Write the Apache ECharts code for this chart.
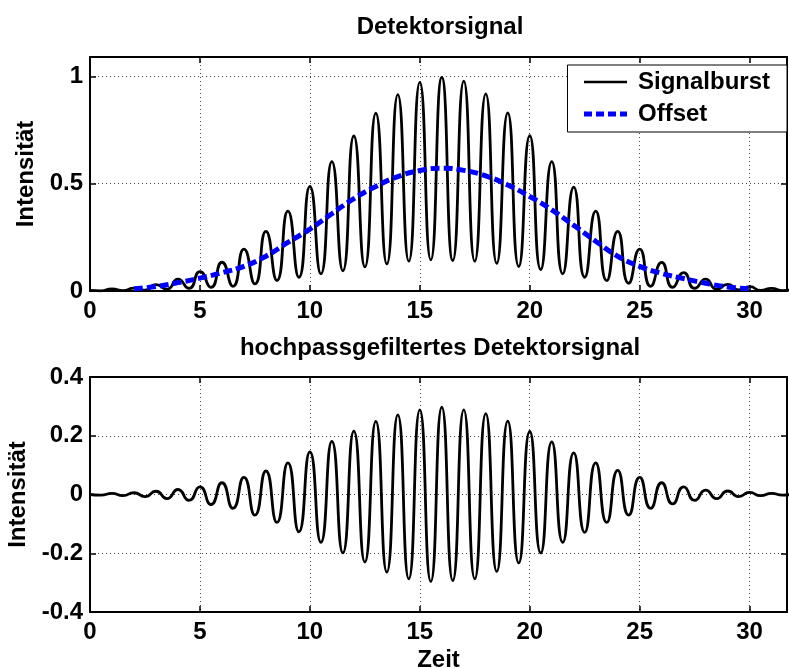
<!DOCTYPE html>
<html>
<head>
    <meta charset="utf-8">
    <title>Detektorsignal</title>
    <script src="https://cdn.jsdelivr.net/npm/echarts@6/dist/echarts.min.js"></script>
</head>
<body style="margin:0">
    <div id="main" style="width: 789px;height: 668px;"></div>
    <script type="text/javascript">
    // Signalburst (oben): Maxima bei ganzen Zeiten, Minima dazwischen
    var burstT = [0, 0.5, 1, 1.5, 2, 2.5, 3, 3.5, 4, 4.5, 5, 5.5, 6, 6.5, 7, 7.5, 8, 8.5, 9, 9.5,
        10, 10.5, 11, 11.5, 12, 12.5, 13, 13.5, 14, 14.5, 15, 15.5, 16, 16.5, 17, 17.5, 18, 18.5, 19, 19.5,
        20, 20.5, 21, 21.5, 22, 22.5, 23, 23.5, 24, 24.5, 25, 25.5, 26, 26.5, 27, 27.5, 28, 28.5, 29, 29.5,
        30, 30.5, 31, 31.5, 32];
    var burstY = [0.003, 0.001, 0.01, 0.002, 0.013, 0.004, 0.03, 0.008, 0.055, 0.012,
        0.09, 0.017, 0.134, 0.022, 0.195, 0.033, 0.278, 0.049, 0.372, 0.064,
        0.487, 0.08, 0.603, 0.094, 0.722, 0.112, 0.828, 0.126, 0.915, 0.139,
        0.972, 0.145, 0.995, 0.142, 0.978, 0.139, 0.918, 0.129, 0.83, 0.114,
        0.724, 0.1, 0.603, 0.08, 0.484, 0.064, 0.372, 0.048, 0.278, 0.036,
        0.195, 0.022, 0.133, 0.017, 0.086, 0.012, 0.055, 0.008, 0.031, 0.005,
        0.02, 0.003, 0.012, 0.002, 0.008];

    // Offset (gestrichelt)
    var offsetT = [2, 3, 4, 5, 6, 7, 8, 9, 10, 11, 12, 13, 14, 15, 16, 17, 18, 19, 20, 21, 22, 23, 24, 25, 26, 27, 28, 29, 30];
    var offsetY = [0.01, 0.021, 0.039, 0.06, 0.085, 0.115, 0.162, 0.226, 0.288, 0.36, 0.43, 0.487, 0.533, 0.561, 0.572,
        0.562, 0.536, 0.494, 0.44, 0.378, 0.306, 0.232, 0.162, 0.115, 0.082, 0.058, 0.036, 0.019, 0.01];

    // hochpassgefiltertes Signal (unten)
    var hpT = burstT;
    var hpY = [0, -0.002, 0.004, -0.004, 0.006, -0.007, 0.011, -0.014, 0.017, -0.02,
        0.026, -0.034, 0.04, -0.047, 0.058, -0.07, 0.08, -0.095, 0.108, -0.127,
        0.145, -0.163, 0.181, -0.199, 0.216, -0.23, 0.249, -0.264, 0.271, -0.287,
        0.288, -0.296, 0.297, -0.293, 0.288, -0.287, 0.275, -0.262, 0.25, -0.233,
        0.215, -0.199, 0.179, -0.163, 0.142, -0.129, 0.108, -0.095, 0.082, -0.07,
        0.058, -0.047, 0.04, -0.032, 0.026, -0.02, 0.015, -0.014, 0.012, -0.007,
        0.007, -0.004, 0.004, -0.002, 0.002];

    var font = 'Liberation Sans';
    var fs = 24;

    function pairs(xs, ys) {
        return xs.map((x, i) => [x, ys[i]]);
    }

    function xAx(grid, pos, labels, name) {
        return {
            type: 'value', gridIndex: grid, position: pos,
            min: 0, max: 31.7, interval: 5,
            name: name || '', nameLocation: 'middle', nameGap: 36,
            nameTextStyle: {fontFamily: font, fontSize: fs, fontWeight: 'bold', color: '#000'},
            axisLine: {show: true, onZero: false, lineStyle: {color: '#000', width: 2}},
            axisTick: {show: true, inside: true, length: 6, lineStyle: {color: '#000', width: 1.5}},
            axisLabel: {show: labels, showMaxLabel: false, margin: 8, fontFamily: font, fontSize: fs, fontWeight: 'bold', color: '#000'},
            splitLine: {show: labels, lineStyle: {color: '#444', width: 1, type: [1, 3]}}
        };
    }

    function yAx(grid, pos, labels, min, max, interval) {
        return {
            type: 'value', gridIndex: grid, position: pos,
            min: min, max: max, interval: interval,
            name: labels ? 'Intensität' : '', nameLocation: 'middle', nameGap: 44, nameRotate: 90,
            nameTextStyle: {fontFamily: font, fontSize: fs, fontWeight: 'bold', color: '#000'},
            axisLine: {show: true, onZero: false, lineStyle: {color: '#000', width: 2}},
            axisTick: {show: true, inside: true, length: 6, lineStyle: {color: '#000', width: 1.5}},
            axisLabel: {show: labels, showMaxLabel: max === 1.09 ? false : true, margin: 7, fontFamily: font, fontSize: fs, fontWeight: 'bold', color: '#000'},
            splitLine: {show: labels, lineStyle: {color: '#444', width: 1, type: [1, 3]}}
        };
    }

    var myChart = echarts.init(document.getElementById('main'));
    var option = {
        animation: false,
        backgroundColor: '#fff',
        graphic: [
            {type: 'text', x: 440, y: 15, style: {text: 'Detektorsignal', font: 'bold 24px "Liberation Sans"', fill: '#000', align: 'center', textAlign: 'center', verticalAlign: 'top'}},
            {type: 'text', x: 440, y: 336, style: {text: 'hochpassgefiltertes Detektorsignal', font: 'bold 24px "Liberation Sans"', fill: '#000', align: 'center', textAlign: 'center', verticalAlign: 'top'}}
        ],
        grid: [
            {left: 90, right: 2, top: 57, height: 234, outerBoundsMode: 'none'},
            {left: 90, right: 2, top: 377, height: 235, outerBoundsMode: 'none'}
        ],
        xAxis: [
            xAx(0, 'bottom', true),
            xAx(0, 'top', false),
            xAx(1, 'bottom', true, 'Zeit'),
            xAx(1, 'top', false)
        ],
        yAxis: [
            yAx(0, 'left', true, 0, 1.09, 0.5),
            yAx(0, 'right', false, 0, 1.09, 0.5),
            yAx(1, 'left', true, -0.4, 0.4, 0.2),
            yAx(1, 'right', false, -0.4, 0.4, 0.2)
        ],
        legend: {
            orient: 'vertical', right: 2, top: 65,
            data: [
                {name: 'Signalburst', lineStyle: {width: 2.5, color: '#000', type: 'solid'}},
                {name: 'Offset', lineStyle: {width: 5, color: '#0000ff', type: [8, 4]}}
            ],
            itemWidth: 43, itemHeight: 14, itemGap: 8,
            padding: [5, 17, 6, 14],
            borderColor: '#000', borderWidth: 1, borderRadius: 0,
            backgroundColor: '#fff',
            itemStyle: {opacity: 0, color: 'rgba(0,0,0,0)', borderWidth: 0},
            textStyle: {fontFamily: font, fontSize: fs, fontWeight: 'bold', color: '#000', padding: [0, 0, 0, 6]}
        },
        series: [
            {
                name: 'Signalburst', type: 'line', xAxisIndex: 0, yAxisIndex: 0,
                data: pairs(burstT, burstY), smooth: 0.6, symbol: 'none',
                lineStyle: {color: '#000', width: 2.8}, itemStyle: {color: '#000'}
            },
            {
                name: 'Offset', type: 'line', xAxisIndex: 0, yAxisIndex: 0,
                data: pairs(offsetT, offsetY), smooth: true, symbol: 'none', z: 3,
                lineStyle: {color: '#0000ff', width: 5, type: [9, 4]}, itemStyle: {color: '#0000ff'}
            },
            {
                name: 'hochpass', type: 'line', xAxisIndex: 2, yAxisIndex: 2,
                data: pairs(hpT, hpY), smooth: 0.6, symbol: 'none',
                lineStyle: {color: '#000', width: 2.8}, itemStyle: {color: '#000'}
            }
        ]
    };
    myChart.setOption(option);
    </script>
</body>
</html>
